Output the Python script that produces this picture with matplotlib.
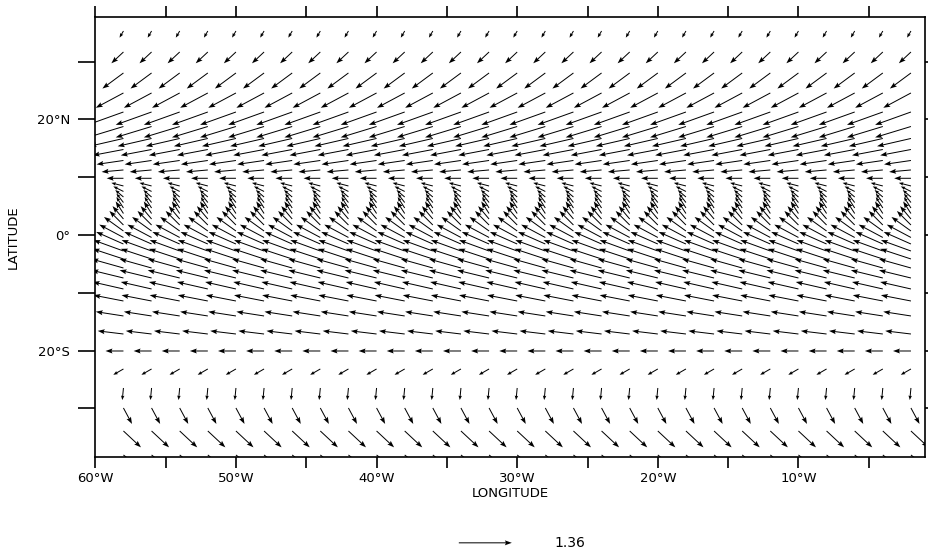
import numpy as np
import matplotlib
matplotlib.use("Agg")
import matplotlib.pyplot as plt

# grid columns (deg E) and rows (deg N) of the vector field
lons = np.arange(-58, -1, 2)
lats = [35.29, 31.66, 28.03, 24.57, 21.28, 18.77, 16.70, 14.79, 12.89, 11.25, 9.81,
        8.48, 7.53, 6.57, 5.62, 4.67, 3.72, 2.77, 1.73, 0.69, -0.43, -1.56, -2.77,
        -4.15, -5.71, -7.44, -9.34, -11.42, -14.01, -17.13, -20.07,
        -23.18, -26.47, -29.93, -33.91, -38.06]
# zonal / meridional components per row (same at every longitude)
u_row = [-0.10, -0.31, -0.54, -0.71, -0.92, -0.92, -0.87, -0.79, -0.69, -0.56, -0.43,
         -0.31, -0.26, -0.21, -0.18, -0.18, -0.20, -0.28, -0.36, -0.50, -0.62, -0.70, -0.77,
         -0.79, -0.82, -0.82, -0.79, -0.77, -0.71, -0.66, -0.46,
         -0.26, -0.03, 0.22, 0.45, 0.46]
v_row = [-0.17, -0.29, -0.40, -0.38, -0.33, -0.28, -0.20, -0.15, -0.10, -0.05, 0.0,
         0.08, 0.13, 0.18, 0.23, 0.28, 0.31, 0.33, 0.36, 0.36, 0.33, 0.31, 0.28,
         0.26, 0.23, 0.20, 0.18, 0.15, 0.11, 0.08, 0.0,
         -0.15, -0.31, -0.41, -0.42, -0.36]
key_value = 1.36

X, Y = np.meshgrid(lons, lats)
U = np.tile(np.array(u_row)[:, None], (1, len(lons)))
V = np.tile(np.array(v_row)[:, None], (1, len(lons)))
short = np.hypot(U, V) < 0.35

fig = plt.figure(figsize=(9.29, 5.55), dpi=100)
ax = fig.add_axes([0.1026, 0.1771, 0.8931, 0.7917])

# 1.36 units -> 0.53 inch on the page; short vectors get smaller heads
common = dict(angles="uv", scale_units="inches", scale=key_value / 0.53,
              width=0.0012, minlength=0, pivot="tail", color="black")
q = ax.quiver(X[~short], Y[~short], U[~short], V[~short],
              headwidth=5, headlength=7, headaxislength=6, **common)
ax.quiver(X[short], Y[short], U[short], V[short],
          headwidth=3.5, headlength=4.5, headaxislength=4, **common)

ax.set_xlim(-60, -1)
ax.set_ylim(-38.36, 37.66)

xt = np.arange(-60, 0, 5)
ax.set_xticks(xt)
ax.set_xticklabels([f"{-t}°W" if t % 10 == 0 else "" for t in xt], fontsize=9.5)
ax.tick_params(axis="x", which="major", direction="out", length=8, width=1.2,
               top=True, pad=3)
yt = np.arange(-30, 40, 10)
ax.set_yticks(yt)
ylab = {20: "20°N", 0: "0°", -20: "20°S"}
ax.set_yticklabels([ylab.get(t, "") for t in yt], fontsize=9.5)
ax.tick_params(axis="y", which="major", direction="out", length=12, width=1.2,
               right=True, pad=6)
for s in ax.spines.values():
    s.set_linewidth(1.2)

ax.set_xlabel("LONGITUDE", fontsize=9.5)
ax.xaxis.set_label_coords(0.5, -0.069)
ax.set_ylabel("LATITUDE", fontsize=9.5)
ax.yaxis.set_label_coords(-0.091, 0.5)

# reference vector below the plot
ax.quiverkey(q, 0.502, -0.196, key_value, "1.36", labelpos="E", labelsep=0.43,
             coordinates="axes", fontproperties={"size": 10})

fig.savefig("out.png", dpi=100)
